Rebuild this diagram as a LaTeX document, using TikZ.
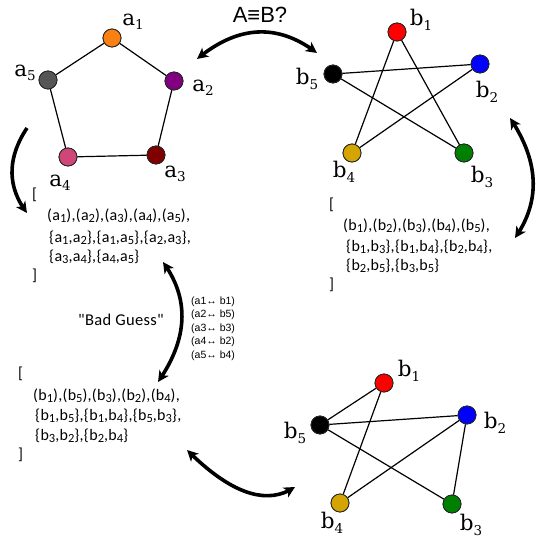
\documentclass[tikz,border=0pt]{standalone}
\usepackage{fontspec}
\setmainfont{Carlito}
\newfontfamily\lblfont{DejaVu Serif}
\newfontfamily\arialfont{Liberation Sans}
\newfontfamily\listfont[LetterSpace=2]{Carlito}
\usetikzlibrary{arrows.meta,bending}
\newcommand\vlbl[2]{{\lblfont\fontsize{21.5}{21.5}\selectfont #1\raisebox{-4.5pt}{\fontsize{13.5}{13.5}\selectfont #2}}}
\newcommand\sbl[1]{\raisebox{-2.5pt}{\fontsize{12.5}{12.5}\selectfont #1}}
\definecolor{corange}{RGB}{250,128,20}
\definecolor{cpurple}{RGB}{128,0,128}
\definecolor{cdred}{RGB}{128,0,0}
\definecolor{cpink}{RGB}{208,70,120}
\definecolor{cgray}{RGB}{85,85,85}
\definecolor{cred}{RGB}{255,0,0}
\definecolor{cblue}{RGB}{0,0,255}
\definecolor{cgreen}{RGB}{0,128,0}
\definecolor{cgold}{RGB}{212,165,0}
\begin{document}
\begin{tikzpicture}[x=1pt,y=-1pt,
  vtx/.style={circle,minimum size=18pt,inner sep=0pt,draw=black!85,line width=0.8pt},
  edge/.style={line width=1.2pt},
  twoarrow/.style={line width=3.6pt,{Stealth[length=11pt,width=11pt,inset=3pt]}-{Stealth[length=11pt,width=11pt,inset=3pt]}},
  onearrow/.style={line width=3.6pt,-{Stealth[length=11pt,width=11pt,inset=3pt]}},
  vlabel/.style={inner sep=0pt,anchor=center},
  listtxt/.style={anchor=base west,inner sep=0pt,font=\listfont\fontsize{16}{18}\selectfont},
  maptxt/.style={anchor=base west,inner sep=0pt,font=\arialfont\fontsize{10.5}{12}\selectfont}]
\useasboundingbox[fill=white] (0,0) rectangle (540,540);

% ---- graph A (pentagon)
\node[vtx,fill=corange] (a1) at (112,38) {};
\node[vtx,fill=cpurple] (a2) at (174,81) {};
\node[vtx,fill=cdred]   (a3) at (156,155) {};
\node[vtx,fill=cpink]   (a4) at (68,157) {};
\node[vtx,fill=cgray]   (a5) at (48,80) {};
\draw[edge] (a1) -- (a2) -- (a3) -- (a4) -- (a5) -- (a1);
\node[vlabel] (la1) at (133,22) {\vlbl{a}{1}};
\node[vlabel] (la2) at (203,88) {\vlbl{a}{2}};
\node[vlabel] (la3) at (175,174) {\vlbl{a}{3}};
\node[vlabel] (la4) at (60,183) {\vlbl{a}{4}};
\node[vlabel] (la5) at (25,73) {\vlbl{a}{5}};

% ---- graph B (star)
\node[vtx,fill=cred]   (b1) at (397,32) {};
\node[vtx,fill=cblue]  (b2) at (480,64) {};
\node[vtx,fill=cgreen] (b3) at (464,153) {};
\node[vtx,fill=cgold]  (b4) at (352,153) {};
\node[vtx,fill=black]  (b5) at (333,74) {};
\draw[edge] (b1) -- (b3);
\draw[edge] (b1) -- (b4);
\draw[edge] (b2) -- (b4);
\draw[edge] (b2) -- (b5);
\draw[edge] (b3) -- (b5);
\node[vlabel] (lb1) at (421,20) {\vlbl{b}{1}};
\node[vlabel] (lb2) at (487,92) {\vlbl{b}{2}};
\node[vlabel] (lb3) at (482,177) {\vlbl{b}{3}};
\node[vlabel] (lb4) at (344,172) {\vlbl{b}{4}};
\node[vlabel] (lb5) at (307,79) {\vlbl{b}{5}};

% ---- graph B guess (bottom right)
\node[vtx,fill=cred]   (c1) at (384,383) {};
\node[vtx,fill=cblue]  (c2) at (467,415) {};
\node[vtx,fill=cgreen] (c3) at (452,504) {};
\node[vtx,fill=cgold]  (c4) at (340,503) {};
\node[vtx,fill=black]  (c5) at (320,425) {};
\draw[edge] (c1) -- (c5);
\draw[edge] (c1) -- (c4);
\draw[edge] (c5) -- (c2);
\draw[edge] (c5) -- (c3);
\draw[edge] (c2) -- (c4);
\draw[edge] (c2) -- (c3);
\node[vlabel] (lc1) at (409,371) {\vlbl{b}{1}};
\node[vlabel] (lc2) at (495,423) {\vlbl{b}{2}};
\node[vlabel] (lc3) at (471,525) {\vlbl{b}{3}};
\node[vlabel] (lc4) at (332,523) {\vlbl{b}{4}};
\node[vlabel] (lc5) at (295,433) {\vlbl{b}{5}};

% redraw vertices on top of edges
\foreach \n/\c in {a1/corange,a2/cpurple,a3/cdred,a4/cpink,a5/cgray,b1/cred,b2/cblue,b3/cgreen,b4/cgold,b5/black,c1/cred,c2/cblue,c3/cgreen,c4/cgold,c5/black}
  \path[draw=black!85,line width=0.8pt,fill=\c] (\n) circle[radius=9pt];

% ---- lists
\node[listtxt] (l1o) at (32,199) {[};
\node[listtxt] (l1a) at (47,220) {(a\sbl1),(a\sbl2),(a\sbl3),(a\sbl4),(a\sbl5),};
\node[listtxt] (l1b) at (49,242) {\{a\sbl1,a\sbl2\},\{a\sbl1,a\sbl5\},\{a\sbl2,a\sbl3\},};
\node[listtxt] (l1c) at (49,261) {\{a\sbl3,a\sbl4\},\{a\sbl4,a\sbl5\}};
\node[listtxt] (l1e) at (32,280) {]};

\node[listtxt] (l2o) at (329,209) {[};
\node[listtxt] (l2a) at (343,230) {(b\sbl1),(b\sbl2),(b\sbl3),(b\sbl4),(b\sbl5),};
\node[listtxt] (l2b) at (346,251) {\{b\sbl1,b\sbl3\},\{b\sbl1,b\sbl4\},\{b\sbl2,b\sbl4\},};
\node[listtxt] (l2c) at (346,270) {\{b\sbl2,b\sbl5\},\{b\sbl3,b\sbl5\}};
\node[listtxt] (l2e) at (329,289) {]};

\node[listtxt] (l3o) at (18,378) {[};
\node[listtxt] (l3a) at (33,400) {(b\sbl1),(b\sbl5),(b\sbl3),(b\sbl2),(b\sbl4),};
\node[listtxt] (l3b) at (35,420) {\{b\sbl1,b\sbl5\},\{b\sbl1,b\sbl4\},\{b\sbl5,b\sbl3\},};
\node[listtxt] (l3c) at (35,440) {\{b\sbl3,b\sbl2\},\{b\sbl2,b\sbl4\}};
\node[listtxt] (l3e) at (18,459) {]};

% ---- titles
\node[inner sep=0pt,font=\arialfont\fontsize{22}{22}\selectfont] (title) at (260,15) {A≡B?};
\node[inner sep=0pt,font=\listfont\fontsize{16.5}{16.5}\selectfont] (bad) at (121,320) {\symbol{34}Bad Guess\symbol{34}};
\node[maptxt] (m1) at (191,304) {(a1↔ b1)};
\node[maptxt] (m2) at (191,317.5) {(a2↔ b5)};
\node[maptxt] (m3) at (191,331) {(a3↔ b3)};
\node[maptxt] (m4) at (191,344.5) {(a4↔ b2)};
\node[maptxt] (m5) at (191,358) {(a5↔ b4)};

% ---- arrows
\coordinate (t1) at (197,59);  \coordinate (t2) at (317,53);
\draw[twoarrow] (t1) .. controls (238,25) and (278,23) .. (t2);
\coordinate (r1) at (510,118); \coordinate (r2) at (515,238);
\draw[twoarrow] (r1) .. controls (539,161) and (541,201) .. (r2);
\coordinate (m1a) at (163,262); \coordinate (m1b) at (158,382);
\draw[twoarrow] (m1a) .. controls (190,299) and (188,339) .. (m1b);
\coordinate (s1) at (27,128); \coordinate (s2) at (27,213);
\draw[onearrow] (s1) .. controls (7,158) and (7,187) .. (s2);
\coordinate (u1) at (187,450); \coordinate (u2) at (295,487);
\draw[twoarrow] (u1) .. controls (231,494) and (267,506) .. (u2);
\end{tikzpicture}
\end{document}
